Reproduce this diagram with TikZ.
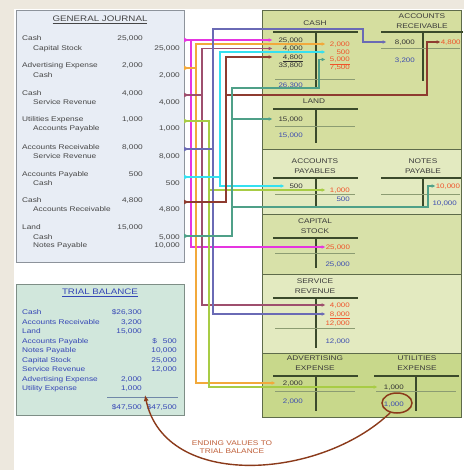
\documentclass[tikz,border=0pt]{standalone}
\usepackage{fontspec}
\setmainfont{Liberation Sans}[FakeStretch=1.22]
\usetikzlibrary{arrows.meta,shapes.geometric}
\definecolor{bgbeige}{HTML}{EDE8DE}
\definecolor{jfill}{HTML}{E8EDF5}
\definecolor{jline}{HTML}{8D939B}
\definecolor{jtext}{HTML}{454545}
\definecolor{tfill}{HTML}{D1E7DC}
\definecolor{tbord}{HTML}{7E8E86}
\definecolor{tblue}{HTML}{3445B5}
\definecolor{tsum}{HTML}{7088A8}
\definecolor{secA}{HTML}{D5DE9F}
\definecolor{secB}{HTML}{E3EAC0}
\definecolor{secC}{HTML}{D8E1A9}
\definecolor{secD}{HTML}{C8D88B}
\definecolor{panline}{HTML}{5E6B4A}
\definecolor{taccc}{HTML}{3B4A2B}
\definecolor{subl}{HTML}{8C9C72}
\definecolor{ttl}{HTML}{3A3A3A}
\definecolor{amt}{HTML}{333333}
\definecolor{amred}{HTML}{F0532A}
\definecolor{amblue}{HTML}{3D4DB0}
\definecolor{cMag}{HTML}{E535E0}
\definecolor{cOr}{HTML}{F2A93B}
\definecolor{cPlum}{HTML}{9E4F6E}
\definecolor{cYg}{HTML}{A8CC45}
\definecolor{cNavy}{HTML}{6A6AB5}
\definecolor{cCyan}{HTML}{35E0F0}
\definecolor{cBrown}{HTML}{8E3B30}
\definecolor{cTeal}{HTML}{4FA088}
\definecolor{curvec}{HTML}{8B3A1A}
\definecolor{curvetxt}{HTML}{C0603A}
\newcommand\fsJ{\fontsize{6.8}{8}\selectfont}
\newcommand\fsH{\fontsize{8}{9}\selectfont}
\newcommand\fsL{\fontsize{6.8}{10}\selectfont}
\newcommand\fsA{\fontsize{6.5}{7}\selectfont}
\newcommand\jmk[2]{\fill[#1] ([yshift=2.3pt]#2) -- ([xshift=4.5pt]#2) -- ([yshift=-2.3pt]#2) -- cycle;}
\begin{document}
\begin{tikzpicture}[x=1pt,y=-1pt,
  jtxt/.style={anchor=west,inner sep=0,font=\fsJ,text=jtext,text height=5pt,text depth=0.6pt},
  jamt/.style={jtxt,anchor=east},
  ttxt/.style={jtxt,text=tblue},
  tamt/.style={ttxt,anchor=east},
  ltitle/.style={inner sep=0,font=\fsL,text=ttl,align=center},
  la/.style={anchor=east,inner sep=0,font=\fsA,text=amt,text height=4.8pt,text depth=0.6pt,align=right},
  lr/.style={la,text=amred},
  lb/.style={la,text=amblue},
  tgt/.style={text width=#1},
  tacct/.style={draw=taccc,line width=1.6pt},
  sline/.style={draw=subl,line width=0.7pt},
  con/.style={line width=1.2pt,-{Latex[length=4pt,width=3.8pt]}}]
\useasboundingbox (0,0) rectangle (464,470);
\fill[bgbeige] (0,0) rectangle (464,470);
\fill[white] (14,9) rectangle (464,470);

% ---------------- ledger panel
\fill[secA] (262,10) rectangle (461,149);
\fill[secB] (262,149) rectangle (461,214);
\fill[secC] (262,214) rectangle (461,274);
\fill[secB] (262,274) rectangle (461,353);
\fill[secD] (262,353) rectangle (461,417);
\draw[panline,line width=0.8pt] (262,10) rectangle (461,417);
\foreach \yy in {149,214,274,353} \draw[panline,line width=0.8pt] (262,\yy) -- (461,\yy);

% titles
\node[ltitle] (hCash) at (315,23) {CASH};
\node[ltitle] (hAR) at (422,21.5) {ACCOUNTS\\RECEIVABLE};
\node[ltitle] (hLand) at (314,101) {LAND};
\node[ltitle] (hAP) at (315,166) {ACCOUNTS\\PAYABLES};
\node[ltitle] (hNP) at (423,166) {NOTES\\PAYABLE};
\node[ltitle] (hCS) at (315,226) {CAPITAL\\STOCK};
\node[ltitle] (hSR) at (315,286) {SERVICE\\REVENUE};
\node[ltitle] (hAE) at (315,363) {ADVERTISING\\EXPENSE};
\node[ltitle] (hUE) at (417,363) {UTILITIES\\EXPENSE};

% T accounts
\draw[tacct] (273,32) -- (358,32) (316,32) -- (316,89);
\draw[sline] (275,79) -- (355,79);
\draw[tacct] (381,32) -- (463,32) (423,32) -- (423,81);
\draw[sline] (381,48) -- (460,48);
\draw[tacct] (273,109) -- (358,109) (316,109) -- (316,143);
\draw[sline] (275,126) -- (355,126);
\draw[tacct] (273,178) -- (358,178) (316,178) -- (316,208);
\draw[sline] (275,194) -- (355,194);
\draw[tacct] (381,178) -- (461,178) (423,178) -- (423,208);
\draw[sline] (381,194) -- (460,194);
\draw[tacct] (273,238) -- (358,238) (316,238) -- (316,268);
\draw[sline] (275,253) -- (355,253);
\draw[tacct] (273,298) -- (358,298) (316,298) -- (316,348);
\draw[sline] (275,328) -- (355,328);
\draw[tacct] (273,376) -- (358,376) (316,376) -- (316,411);
\draw[sline] (275,391) -- (355,391);
\draw[tacct] (374,376) -- (459,376) (416,376) -- (416,411);
\draw[sline] (376,391) -- (456,391);

% ledger amounts
\node[la,tgt=30] (cL1) at (303,40) {25,000};
\node[la,tgt=30] (cL2) at (303,48.5) {4,000};
\node[la,tgt=30] (cL3) at (303,57) {\underline{4,800}};
\node[la] (cL4) at (303,65.5) {33,800};
\node[lr,tgt=24] (cR1) at (350,44) {2,000};
\node[lr,tgt=24] (cR2) at (350,52) {500};
\node[lr,tgt=24] (cR3) at (350,59.5) {\underline{5,000}};
\node[lr] (cR4) at (350,67) {7,500};
\node[lb] (cBal) at (303,85) {26,300};
\node[la,tgt=28] (arL1) at (415,42) {8,000};
\node[lr,tgt=19] (arR1) at (460,42) {4,800};
\node[lb] (arBal) at (415,60) {3,200};
\node[la,tgt=30] (ldL1) at (303,119) {15,000};
\node[lb] (ldBal) at (303,135) {15,000};
\node[la,tgt=18] (apL1) at (303,186) {500};
\node[lr,tgt=24] (apR1) at (350,190) {1,000};
\node[lb] (apBal) at (350,199) {500};
\node[lr,tgt=21] (npR1) at (457,186) {10,000};
\node[lb] (npBal) at (457,203) {10,000};
\node[lr,tgt=24] (csR1) at (350,247) {25,000};
\node[lb] (csBal) at (350,264) {25,000};
\node[lr,tgt=24] (srR1) at (350,305) {4,000};
\node[lr,tgt=24] (srR2) at (350,314) {\underline{8,000}};
\node[lr] (srR3) at (350,323) {12,000};
\node[lb] (srBal) at (350,341) {12,000};
\node[la,tgt=27] (aeL1) at (303,383) {2,000};
\node[lb] (aeBal) at (303,401) {2,000};
\node[la,tgt=26] (ueL1) at (404,387) {1,000};
\node[lb] (ueBal) at (404,404) {1,000};

% ---------------- general journal
\node[draw=jline,fill=jfill,line width=0.8pt,minimum width=168pt,minimum height=252pt,inner sep=0,anchor=north west] (journal) at (16,10) {};
\node[font=\fsH,text=jtext,inner sep=0] (jtitle) at (100,20) {\underline{GENERAL JOURNAL}};
\node[jtxt] (jl1) at (22,38) {Cash};                 \node[jamt] (ja1) at (143,38) {25,000};
\node[jtxt] (jl2) at (33,48) {Capital Stock};        \node[jamt] (ja2) at (180,48) {25,000};
\node[jtxt] (jl3) at (22,65) {Advertising Expense};  \node[jamt] (ja3) at (143,65) {2,000};
\node[jtxt] (jl4) at (33,75) {Cash};                 \node[jamt] (ja4) at (180,75) {2,000};
\node[jtxt] (jl5) at (22,93) {Cash};                 \node[jamt] (ja5) at (143,93) {4,000};
\node[jtxt] (jl6) at (33,102) {Service Revenue};     \node[jamt] (ja6) at (180,102) {4,000};
\node[jtxt] (jl7) at (22,119) {Utilities Expense};   \node[jamt] (ja7) at (143,119) {1,000};
\node[jtxt] (jl8) at (33,128) {Accounts Payable};    \node[jamt] (ja8) at (180,128) {1,000};
\node[jtxt] (jl9) at (22,147) {Accounts Receivable}; \node[jamt] (ja9) at (143,147) {8,000};
\node[jtxt] (jl10) at (33,156) {Service Revenue};    \node[jamt] (ja10) at (180,156) {8,000};
\node[jtxt] (jl11) at (22,174) {Accounts Payable};   \node[jamt] (ja11) at (143,174) {500};
\node[jtxt] (jl12) at (33,183) {Cash};               \node[jamt] (ja12) at (180,183) {500};
\node[jtxt] (jl13) at (22,200) {Cash};               \node[jamt] (ja13) at (143,200) {4,800};
\node[jtxt] (jl14) at (33,209) {Accounts Receivable};\node[jamt] (ja14) at (180,209) {4,800};
\node[jtxt] (jl15) at (22,227) {Land};               \node[jamt] (ja15) at (143,227) {15,000};
\node[jtxt] (jl16) at (33,237) {Cash};               \node[jamt] (ja16) at (180,237) {5,000};
\node[jtxt] (jl17) at (33,245) {Notes Payable};      \node[jamt] (ja17) at (180,245) {10,000};

% ---------------- trial balance
\node[draw=tbord,fill=tfill,line width=0.8pt,minimum width=168pt,minimum height=131pt,inner sep=0,anchor=north west] (trial) at (16,284) {};
\node[font=\fsH,text=tblue,inner sep=0] (ttitle) at (100,293) {\underline{TRIAL BALANCE}};
\node[ttxt] (t1) at (22,312) {Cash};                \node[tamt] (t1d) at (142,312) {\$26,300};
\node[ttxt] (t2) at (22,322) {Accounts Receivable}; \node[tamt] (t2d) at (142,322) {3,200};
\node[ttxt] (t3) at (22,331) {Land};                \node[tamt] (t3d) at (142,331) {15,000};
\node[ttxt] (t4) at (22,341) {Accounts Payable};    \node[tamt] (t4c) at (177,341) {\$\hspace{6pt}500};
\node[ttxt] (t5) at (22,350) {Notes Payable};       \node[tamt] (t5c) at (177,350) {10,000};
\node[ttxt] (t6) at (22,360) {Capital Stock};       \node[tamt] (t6c) at (177,360) {25,000};
\node[ttxt] (t7) at (22,369) {Service Revenue};     \node[tamt] (t7c) at (177,369) {12,000};
\node[ttxt] (t8) at (22,379) {Advertising Expense}; \node[tamt] (t8d) at (142,379) {2,000};
\node[ttxt] (t9) at (22,388) {Utility Expense};     \node[tamt] (t9d) at (142,388) {1,000};
\draw[tsum,line width=0.8pt] (107,397) -- (178,397);
\node[tamt] (ttd) at (142,407) {\$47,500};
\node[tamt] (ttc) at (177,407) {\$47,500};

% ---------------- connectors
\coordinate (mA) at (184,40);
\coordinate (mB) at (184,68);
\coordinate (mC) at (184,95);
\coordinate (mD) at (184,121);
\coordinate (mE) at (184,149);
\coordinate (mF) at (184,177);
\coordinate (mG) at (184,202);
\coordinate (mH) at (184,236);

\draw[con,cMag] (mA) -- (mA -| cL1.west);
\draw[con,cMag] (mA) -- (191,40) |- (csR1.west);
\draw[con,cOr] (mB) -- (196,68) |- (cR1.west);
\draw[con,cOr] (mB) -- (196,68) |- (aeL1.west);
\draw[con,cPlum] (mC) -- (202,95) |- (cL2.west);
\draw[con,cPlum] (mC) -- (202,95) |- (srR1.west);
\draw[con,cYg] (mD) -- (209,121) |- (apR1.west);
\draw[con,cYg] (mD) -- (209,121) |- (ueL1.west);
\draw[con,cNavy] (mE) -- (213,149) |- (363,29) |- (arL1.west);
\draw[con,cNavy] (mE) -- (213,149) |- (srR2.west);
\draw[con,cCyan,line width=1.9pt] (mF) -- (220,177) |- (cR2.west);
\draw[con,cCyan,line width=1.9pt] (mF) -- (220,177) |- (apL1.west);
\draw[con,cBrown] (mG) -- (226,202) |- (cL3.west);
\draw[con,cBrown] (mG) -- (226,202) |- (427,95) |- (arR1.west);
\draw[con,cTeal] (mH) -- (232,236) |- (ldL1.west);
\draw[con,cTeal] (mH) -- (232,236) |- (319,88) |- (cR3.west);
\draw[con,cTeal] (mH) -- (232,236) |- (428,207) |- (npR1.west);

\jmk{cMag}{mA}
\jmk{cOr}{mB}
\jmk{cPlum}{mC}
\jmk{cYg}{mD}
\jmk{cNavy}{mE}
\jmk{cCyan}{mF}
\jmk{cBrown}{mG}
\jmk{cTeal}{mH}

% ---------------- ending values arrow
\node[draw=curvec,line width=1.5pt,ellipse,minimum width=30pt,minimum height=20pt,inner sep=0] (circ) at (397,403) {};
\draw[curvec,line width=1.4pt,-{Latex[length=6pt,width=5pt]}] (circ.235) .. controls (320,480) and (165,490) .. ([xshift=3pt,yshift=-4pt]t9d.south east);
\node[font=\fsJ,text=curvetxt,align=center,inner sep=0] (lbl) at (232,447) {ENDING VALUES TO\\TRIAL BALANCE};
\end{tikzpicture}
\end{document}
